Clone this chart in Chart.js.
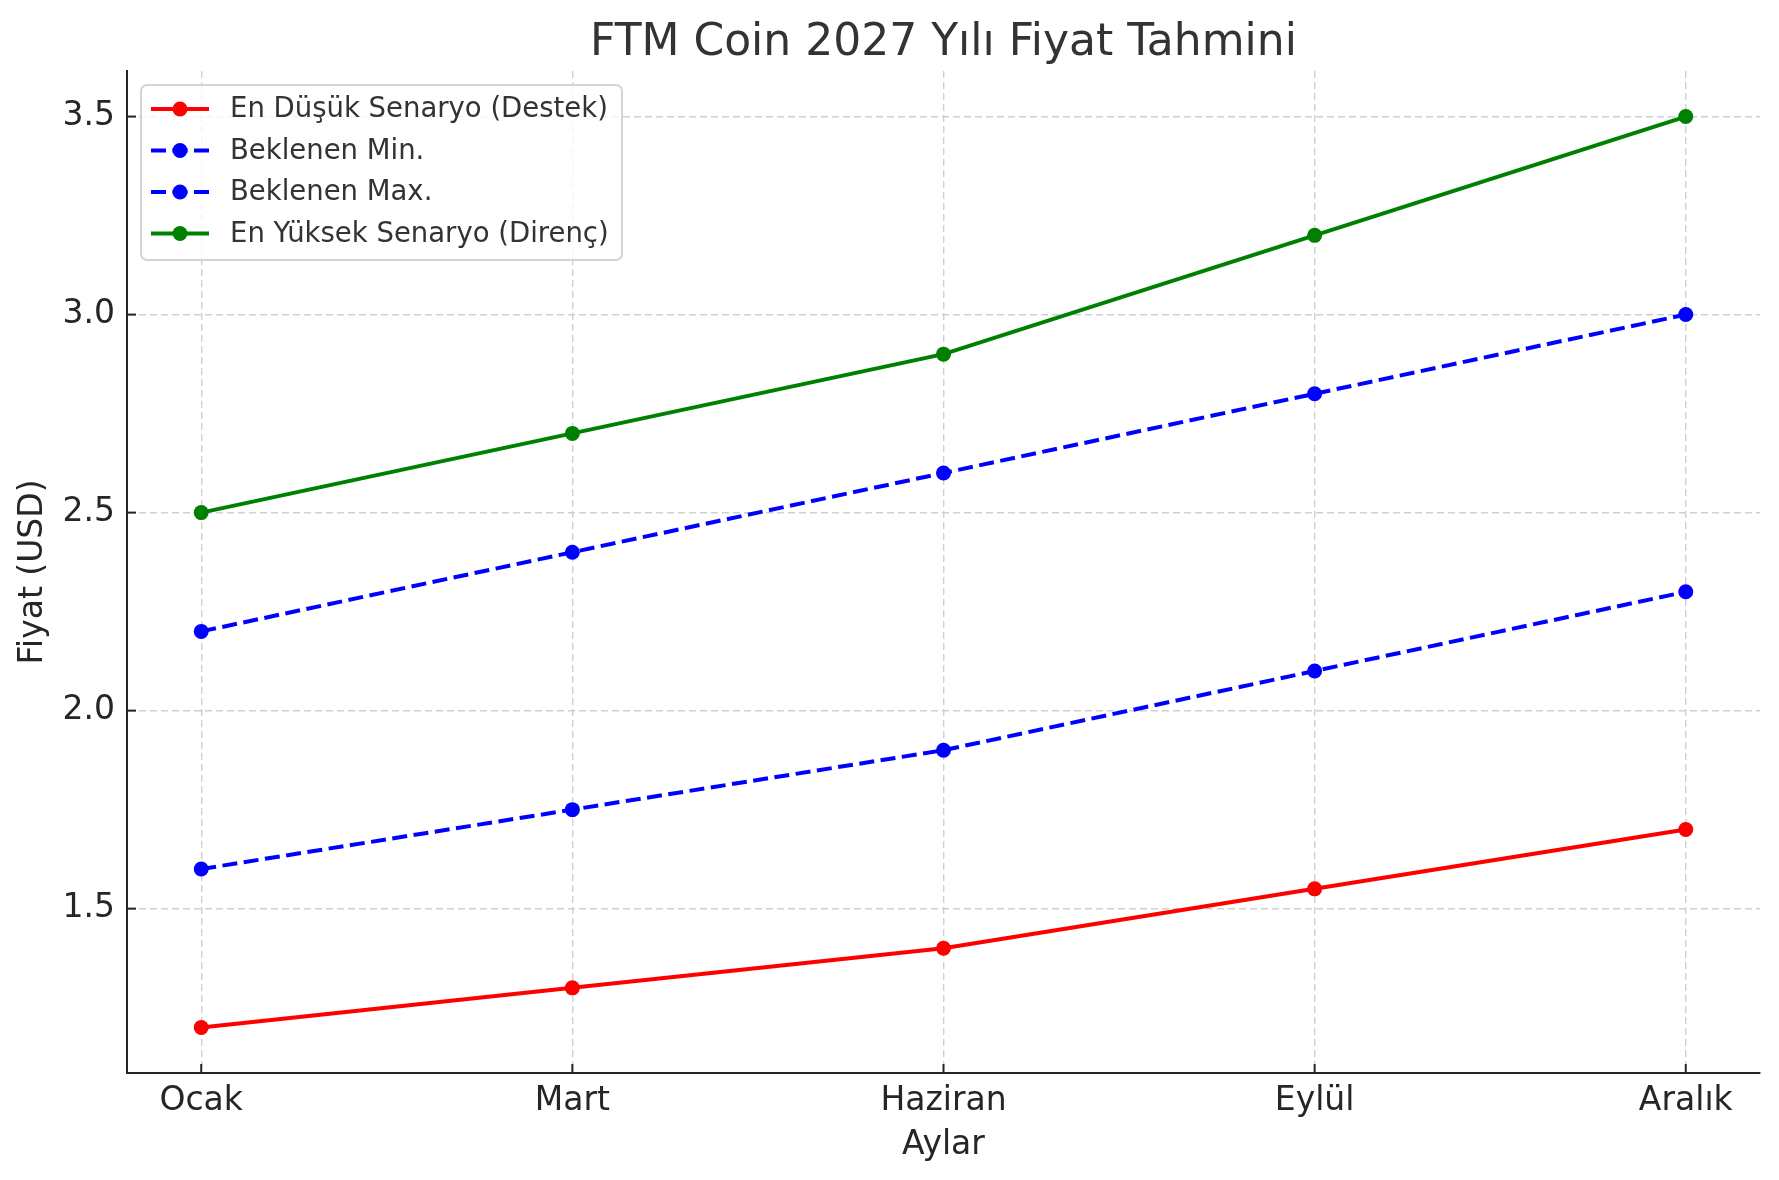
<!DOCTYPE html>
<html>
<head>
<meta charset="utf-8">
<script src="https://cdn.jsdelivr.net/npm/chart.js@4.4.0/dist/chart.umd.min.js"></script>
<style>
  html, body { margin: 0; padding: 0; background: #fff; }
  #wrap { width: 1779px; height: 1180px; }
</style>
</head>
<body>
<div id="wrap"><canvas id="chart" width="1779" height="1180"></canvas></div>
<script>
const months = ['Ocak', 'Mart', 'Haziran', 'Eylül', 'Aralık']
const lowScenario = [1.2, 1.3, 1.4, 1.55, 1.7]
const expectedMin = [1.6, 1.75, 1.9, 2.1, 2.3]
const expectedMax = [2.2, 2.4, 2.6, 2.8, 3.0]
const highScenario = [2.5, 2.7, 2.9, 3.2, 3.5]
const yTicks = [1.5, 2.0, 2.5, 3.0, 3.5]

const FONT = '"DejaVu Sans", sans-serif'
const TEXT = '#262626'

const toPoints = arr => arr.map((v, i) => ({ x: i, y: v }))

function makeSet(label, values, color, dashed) {
  return {
    label: label,
    data: toPoints(values),
    borderColor: color,
    backgroundColor: color,
    borderWidth: 4,
    borderDash: dashed ? [15, 6.5] : [],
    pointRadius: 7.5,
    pointHoverRadius: 7.5,
    pointBorderWidth: 0,
    pointBackgroundColor: color,
    tension: 0,
    fill: false
  }
}

// ticks pointing into the plot, like the original
const innerTicks = {
  id: 'innerTicks',
  beforeDatasetsDraw(chart) {
    const { ctx, chartArea, scales } = chart
    ctx.save()
    ctx.strokeStyle = TEXT
    ctx.lineWidth = 2
    scales.x.ticks.forEach(t => {
      const x = scales.x.getPixelForValue(t.value)
      ctx.beginPath()
      ctx.moveTo(x, chartArea.bottom)
      ctx.lineTo(x, chartArea.bottom - 9)
      ctx.stroke()
    })
    scales.y.ticks.forEach(t => {
      const y = scales.y.getPixelForValue(t.value)
      ctx.beginPath()
      ctx.moveTo(chartArea.left, y)
      ctx.lineTo(chartArea.left + 9, y)
      ctx.stroke()
    })
    ctx.restore()
  }
}

// legend box inside the plot, upper left
const boxLegend = {
  id: 'boxLegend',
  afterDraw(chart) {
    const { ctx } = chart
    const left = 141, top = 85, w = 481, h = 175, r = 6
    ctx.save()
    ctx.beginPath()
    ctx.roundRect(left, top, w, h, r)
    ctx.fillStyle = 'rgba(255,255,255,0.8)'
    ctx.fill()
    ctx.lineWidth = 2
    ctx.strokeStyle = '#d4d4d4'
    ctx.stroke()

    chart.data.datasets.forEach((ds, i) => {
      const y = 109 + i * 41.5
      ctx.strokeStyle = ds.borderColor
      ctx.lineWidth = ds.borderWidth
      ctx.setLineDash(ds.borderDash)
      ctx.beginPath()
      ctx.moveTo(151, y)
      ctx.lineTo(209, y)
      ctx.stroke()
      ctx.setLineDash([])
      ctx.fillStyle = ds.borderColor
      ctx.beginPath()
      ctx.arc(180, y, 7.5, 0, Math.PI * 2)
      ctx.fill()
      ctx.fillStyle = '#333333'
      ctx.font = '27.5px ' + FONT
      ctx.textBaseline = 'middle'
      ctx.textAlign = 'left'
      ctx.fillText(ds.label, 230, y + 1)
    })
    ctx.restore()
  }
}

function start() {
  const ctx = document.getElementById('chart').getContext('2d')
  new Chart(ctx, {
    type: 'line',
    data: {
      datasets: [
        makeSet('En Düşük Senaryo (Destek)', lowScenario, '#ff0000', false),
        makeSet('Beklenen Min.', expectedMin, '#0000ff', true),
        makeSet('Beklenen Max.', expectedMax, '#0000ff', true),
        makeSet('En Yüksek Senaryo (Direnç)', highScenario, '#008000', false)
      ]
    },
    options: {
      responsive: false,
      animation: false,
      devicePixelRatio: 1,
      layout: { padding: { left: 0, right: 19, top: 0, bottom: 0 } },
      plugins: {
        legend: { display: false },
        tooltip: { enabled: false },
        title: {
          display: true,
          text: 'FTM Coin 2027 Yılı Fiyat Tahmini',
          fullSize: false,
          color: '#333333',
          font: { family: FONT, size: 44, weight: 'normal', lineHeight: 1.2 },
          padding: { top: 17, bottom: 1.2 }
        }
      },
      scales: {
        x: {
          type: 'linear',
          min: -0.2,
          max: 4.2,
          afterBuildTicks: scale => { scale.ticks = months.map((m, i) => ({ value: i })) },
          afterFit: scale => { scale.height = 107 },
          ticks: {
            autoSkip: false,
            maxRotation: 0,
            padding: 9,
            color: TEXT,
            font: { family: FONT, size: 33 },
            callback: v => months[v]
          },
          grid: { color: '#d0d0d0', lineWidth: 1.4, drawTicks: false },
          border: { display: true, color: TEXT, width: 2, dash: [7, 4] },
          title: {
            display: true,
            text: 'Aylar',
            color: TEXT,
            font: { family: FONT, size: 33, lineHeight: 1.2 },
            padding: { top: 0, bottom: 15 }
          }
        },
        y: {
          type: 'linear',
          min: 1.085,
          max: 3.615,
          afterBuildTicks: scale => { scale.ticks = yTicks.map(v => ({ value: v })) },
          afterFit: scale => { scale.width = 127 },
          ticks: {
            padding: 12,
            color: TEXT,
            font: { family: FONT, size: 33 },
            callback: v => v.toFixed(1)
          },
          grid: { color: '#d0d0d0', lineWidth: 1.4, drawTicks: false },
          border: { display: true, color: TEXT, width: 2, dash: [7, 4] },
          title: {
            display: true,
            text: 'Fiyat (USD)',
            color: TEXT,
            font: { family: FONT, size: 33, lineHeight: 1.2 },
            padding: { top: 14, bottom: 0 }
          }
        }
      }
    },
    plugins: [innerTicks, boxLegend]
  })
}

document.addEventListener('DOMContentLoaded', start)
</script>
</body>
</html>
